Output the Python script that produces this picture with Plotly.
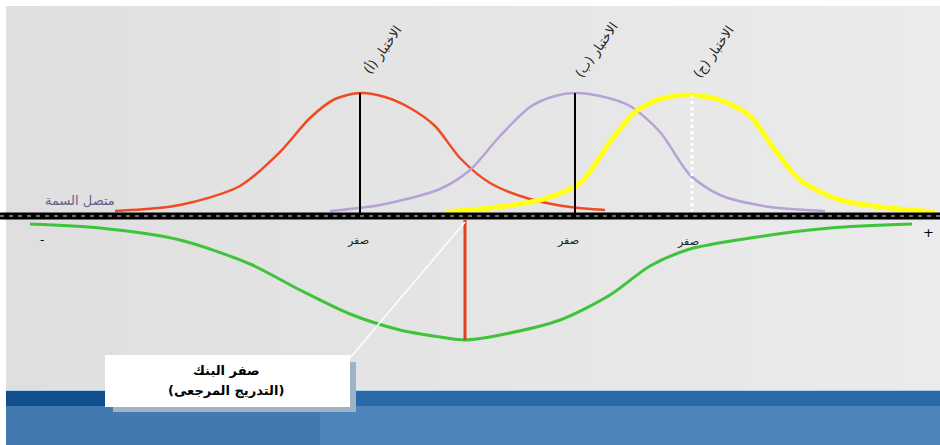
import plotly.graph_objects as go

# curves, in pixel coordinates (y grows downward)
red_x = [115, 180, 240, 280, 310, 335, 360, 385, 410, 435, 460, 490, 530, 570, 605]
red_y = [211, 205, 186, 152, 118, 99, 93, 97, 108, 126, 158, 183, 199, 207, 210]

purple_x = [330, 380, 440, 470, 500, 530, 555, 575, 600, 630, 660, 690, 720, 770, 825]
purple_y = [211, 205, 189, 170, 136, 107, 96, 93, 96, 106, 132, 175, 195, 207, 211]

yellow_x = [445, 490, 540, 580, 610, 635, 660, 690, 720, 750, 775, 800, 840, 890, 935]
yellow_y = [212, 208, 200, 183, 142, 112, 99, 95, 100, 116, 150, 180, 200, 208, 212]

green_x = [30, 100, 180, 250, 300, 350, 400, 440, 465, 500, 560, 610, 650, 690, 750, 830, 912]
green_y = [224, 228, 240, 264, 290, 314, 330, 337, 340, 335, 320, 295, 266, 249, 238, 228, 224]

test_labels = ["الاختبار (أ)", "الاختبار (ب)", "الاختبار (ج)"]
test_peak_x = [360, 575, 692]
test_peak_y = [93, 93, 95]
zero_x = [358, 568, 688]
zero_y = [240, 240, 241]
zero_label = "صفر"
trait_label = "متصل السمة"
bank_lines = ["صفر البنك", "(التدريج المرجعى)"]
bank_zero_x = 465

FONT = "DejaVu Sans"

fig = go.Figure()


def curve(xs, ys, color, width):
    fig.add_trace(go.Scatter(x=xs, y=ys, mode="lines",
                             line=dict(color=color, width=width, shape="spline", smoothing=0.8),
                             hoverinfo="skip", showlegend=False))


curve(red_x, red_y, "#f04a24", 2.5)
curve(purple_x, purple_y, "#b6a2d4", 2.5)
curve(yellow_x, yellow_y, "#ffff1a", 5)
curve(green_x, green_y, "#3ec43a", 3)

# vertical markers at each test's peak
for px, py, col, dash in zip(test_peak_x, test_peak_y, ["black", "black", "white"], ["solid", "solid", "dot"]):
    fig.add_trace(go.Scatter(x=[px, px], y=[py, 214], mode="lines",
                             line=dict(color=col, width=2 if dash == "solid" else 3, dash=dash),
                             hoverinfo="skip", showlegend=False))

# thick dashed baseline
fig.add_trace(go.Scatter(x=[0, 940], y=[216, 216], mode="lines", line=dict(color="black", width=7),
                         hoverinfo="skip", showlegend=False))
fig.add_trace(go.Scatter(x=[0, 940], y=[216, 216], mode="lines",
                         line=dict(color="#6e6e6e", width=2, dash="4px,5px"),
                         hoverinfo="skip", showlegend=False))

# bank zero line + pointer
fig.add_trace(go.Scatter(x=[bank_zero_x, bank_zero_x], y=[220, 340], mode="lines",
                         line=dict(color="#e2401c", width=3), hoverinfo="skip", showlegend=False))
fig.add_trace(go.Scatter(x=[bank_zero_x, 350], y=[222, 358], mode="lines",
                         line=dict(color="white", width=1.5), hoverinfo="skip", showlegend=False))

shapes = []
# background gradient approximation (dark left -> light right)
n_steps = 24
for i in range(n_steps):
    level = 223 + round(i * 12 / (n_steps - 1))
    w = (940 - 6) / n_steps
    shapes.append(dict(type="rect", xref="x", yref="y", x0=6 + i * w, x1=6 + (i + 1) * w + 1, y0=6, y1=390,
                       fillcolor=f"rgb({level},{level},{level})", line_width=0, layer="below"))
# blue band
shapes.append(dict(type="rect", xref="x", yref="y", x0=6, x1=940, y0=390, y1=445, fillcolor="#4d84bb", line_width=0, layer="below"))
shapes.append(dict(type="rect", xref="x", yref="y", x0=6, x1=940, y0=391, y1=406, fillcolor="#2a6aaa", line_width=0, layer="below"))
shapes.append(dict(type="rect", xref="x", yref="y", x0=6, x1=320, y0=391, y1=406, fillcolor="#124f8e", line_width=0, layer="below"))
shapes.append(dict(type="rect", xref="x", yref="y", x0=6, x1=320, y0=406, y1=445, fillcolor="#4279b1", line_width=0, layer="below"))
shapes.append(dict(type="line", xref="x", yref="y", x0=6, x1=940, y0=390.5, y1=390.5,
                   line=dict(color="#a9cdec", width=1), layer="below"))
# label box with shadow
shapes.append(dict(type="rect", xref="x", yref="y", x0=113, x1=356, y0=362, y1=412, fillcolor="#9fb3c8", line_width=0, layer="below"))
shapes.append(dict(type="rect", xref="x", yref="y", x0=105, x1=350, y0=355, y1=407, fillcolor="white", line_width=0, layer="below"))

annotations = []
for px, py, lbl in zip(test_peak_x, test_peak_y, test_labels):
    annotations.append(dict(x=px + 22, y=py - 43, text=lbl, showarrow=False, textangle=-55,
                            font=dict(family=FONT, size=13, color="#222222")))
for zx, zy in zip(zero_x, zero_y):
    annotations.append(dict(x=zx, y=zy, text=zero_label, showarrow=False,
                            font=dict(family=FONT, size=11, color="#222222")))
annotations.append(dict(x=80, y=200, text=trait_label, showarrow=False,
                        font=dict(family=FONT, size=13, color="#6b5c8c")))
annotations.append(dict(x=42, y=240, text="-", showarrow=False, font=dict(family=FONT, size=12, color="black")))
annotations.append(dict(x=928, y=232, text="+", showarrow=False, font=dict(family=FONT, size=13, color="black")))
for ly, txt in zip([370, 390], bank_lines):
    annotations.append(dict(x=226, y=ly, text="<b>" + txt + "</b>", showarrow=False,
                            font=dict(family=FONT, size=13, color="black")))

fig.update_layout(
    width=940, height=445,
    margin=dict(l=0, r=0, t=0, b=0),
    paper_bgcolor="white", plot_bgcolor="white",
    xaxis=dict(range=[0, 940], visible=False, fixedrange=True),
    yaxis=dict(range=[445, 0], visible=False, fixedrange=True),
    shapes=shapes, annotations=annotations, showlegend=False,
)

fig.write_html("out.html", config={"displayModeBar": False},
               post_script="document.body.style.margin='0';")
